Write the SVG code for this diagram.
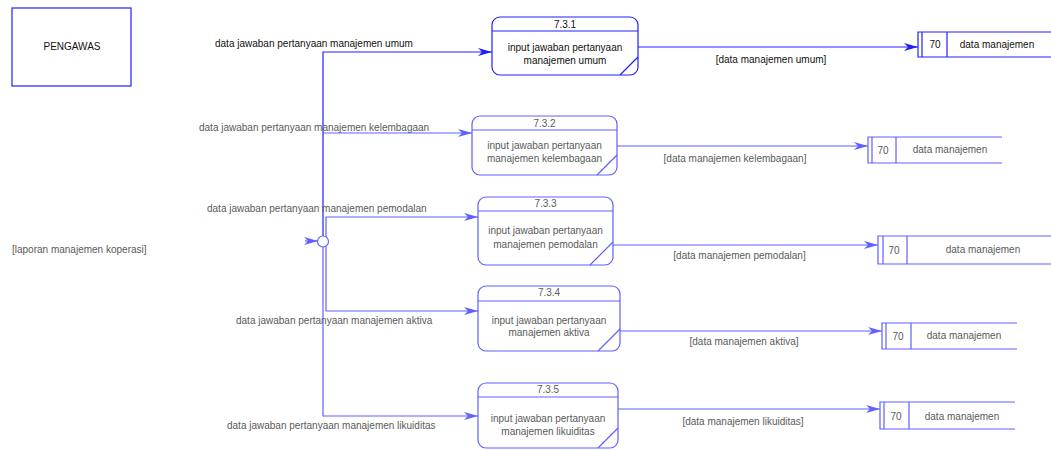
<svg xmlns="http://www.w3.org/2000/svg" width="1051" height="450" viewBox="0 0 1051 450">
<style>
text{font-family:"Liberation Sans",Arial,sans-serif;font-size:10px;}
.c{text-anchor:middle;}
.t1{fill:#111;}
.t2{fill:#5a5a5a;}
.s1{fill:none;stroke:#2020ff;stroke-width:1.2;}
.s2{fill:none;stroke:#6060ff;stroke-width:1.2;}
.w1{fill:#fff;stroke:#2020ff;stroke-width:1.2;}
.w2{fill:#fff;stroke:#6060ff;stroke-width:1.2;}
</style>
<defs>
<marker id="a1" markerUnits="userSpaceOnUse" markerWidth="15" markerHeight="9" refX="14" refY="4" orient="auto"><path d="M0,0 L14,4 L0,8 L4,4 z" fill="#2020ff"/></marker>
<marker id="a2" markerUnits="userSpaceOnUse" markerWidth="15" markerHeight="9" refX="14" refY="4" orient="auto"><path d="M0,0 L14,4 L0,8 L4,4 z" fill="#6060ff"/></marker>
</defs>
<rect width="1051" height="450" fill="#fff"/>

<g id="connectors">
<path class="s1" d="M323,236 V52 H492" marker-end="url(#a1)"/>
<path class="s2" d="M323,133 H472" marker-end="url(#a2)"/>
<path class="s2" d="M326,237 V217 H478" marker-end="url(#a2)"/>
<path class="s2" d="M326,246 V311 H478" marker-end="url(#a2)"/>
<path class="s2" d="M323,247 V416 H478" marker-end="url(#a2)"/>
<path class="s2" d="M305,241 H318" marker-end="url(#a2)"/>
<path class="s1" d="M638,47 H918" marker-end="url(#a1)"/>
<path class="s2" d="M617,146 H868" marker-end="url(#a2)"/>
<path class="s2" d="M613,245 H878" marker-end="url(#a2)"/>
<path class="s2" d="M620,331 H882" marker-end="url(#a2)"/>
<path class="s2" d="M618,409 H880" marker-end="url(#a2)"/>
<text class="t1" x="215" y="47">data jawaban pertanyaan manajemen umum</text>
<text class="t2" x="199" y="130.5">data jawaban pertanyaan manajemen kelembagaan</text>
<text class="t2" x="207" y="211.5">data jawaban pertanyaan manajemen pemodalan</text>
<text class="t2" x="236" y="323.5">data jawaban pertanyaan manajemen aktiva</text>
<text class="t2" x="227" y="428.5">data jawaban pertanyaan manajemen likuiditas</text>
<text class="t1 c" x="771" y="62.5">[data manajemen umum]</text>
<text class="t2 c" x="735" y="161.5">[data manajemen kelembagaan]</text>
<text class="t2 c" x="739.5" y="258.5">[data manajemen pemodalan]</text>
<text class="t2 c" x="744" y="344.5">[data manajemen aktiva]</text>
<text class="t2 c" x="743" y="424.5">[data manajemen likuiditas]</text>
<text class="t2" x="12" y="252.5">[laporan manajemen koperasi]</text>
</g>

<g id="junction">
<circle class="w2" cx="323" cy="241.5" r="5.5"/>
</g>

<g id="pengawas">
<rect class="s1" x="12" y="8" width="119" height="78"/>
<text class="t1 c" x="72" y="50">PENGAWAS</text>
</g>

<g id="p731">
<rect class="w1" x="492" y="17" width="146" height="58" rx="8"/>
<path class="s1" d="M492,31 H638 M620,75 L638,57"/>
<text class="t1 c" x="565" y="27.5">7.3.1</text>
<text class="t1 c" x="565" y="50.5">input jawaban pertanyaan</text>
<text class="t1 c" x="565" y="63.5">manajemen umum</text>
</g>

<g id="p732">
<rect class="w2" x="472" y="116" width="145" height="59" rx="8"/>
<path class="s2" d="M472,130 H617 M597,175 L617,155"/>
<text class="t2 c" x="544.5" y="126.5">7.3.2</text>
<text class="t2 c" x="544.5" y="148.5">input jawaban pertanyaan</text>
<text class="t2 c" x="544.5" y="161.5">manajemen kelembagaan</text>
</g>

<g id="p733">
<rect class="w2" x="478" y="197" width="135" height="68" rx="8"/>
<path class="s2" d="M478,211 H613 M590,265 L613,242"/>
<text class="t2 c" x="545.5" y="206.5">7.3.3</text>
<text class="t2 c" x="545.5" y="233.5">input jawaban pertanyaan</text>
<text class="t2 c" x="545.5" y="247.5">manajemen pemodalan</text>
</g>

<g id="p734">
<rect class="w2" x="478" y="286" width="142" height="65" rx="8"/>
<path class="s2" d="M478,301 H620 M598,351 L620,329"/>
<text class="t2 c" x="549" y="295.5">7.3.4</text>
<text class="t2 c" x="549" y="323.5">input jawaban pertanyaan</text>
<text class="t2 c" x="549" y="335.5">manajemen aktiva</text>
</g>

<g id="p735">
<rect class="w2" x="478" y="383" width="140" height="65" rx="8"/>
<path class="s2" d="M478,397 H618 M598,448 L618,428"/>
<text class="t2 c" x="548" y="392.5">7.3.5</text>
<text class="t2 c" x="548" y="421.5">input jawaban pertanyaan</text>
<text class="t2 c" x="548" y="434.5">manajemen likuiditas</text>
</g>

<g id="ds1">
<path class="s1" d="M1051,32 H918 V57 H1051 M922,32 V57 M947,32 V57"/>
<text class="t1 c" x="935" y="48">70</text>
<text class="t1 c" x="997" y="48">data manajemen</text>
</g>

<g id="ds2">
<path class="s2" d="M1002,137 H868 V163 H1002 M872,137 V163 M896,137 V163"/>
<text class="t2 c" x="883" y="153.5">70</text>
<text class="t2 c" x="950" y="152.5">data manajemen</text>
</g>

<g id="ds3">
<path class="s2" d="M1051,236 H878 V264 H1051 M883,236 V264 M907,236 V264"/>
<text class="t2 c" x="894" y="253.5">70</text>
<text class="t2 c" x="983" y="252.5">data manajemen</text>
</g>

<g id="ds4">
<path class="s2" d="M1017,323 H882 V349 H1017 M886,323 V349 M911,323 V349"/>
<text class="t2 c" x="898" y="339.5">70</text>
<text class="t2 c" x="964" y="338.5">data manajemen</text>
</g>

<g id="ds5">
<path class="s2" d="M1015,402 H880 V429 H1015 M884,402 V429 M909,402 V429"/>
<text class="t2 c" x="896" y="419.5">70</text>
<text class="t2 c" x="962" y="419.5">data manajemen</text>
</g>
</svg>
